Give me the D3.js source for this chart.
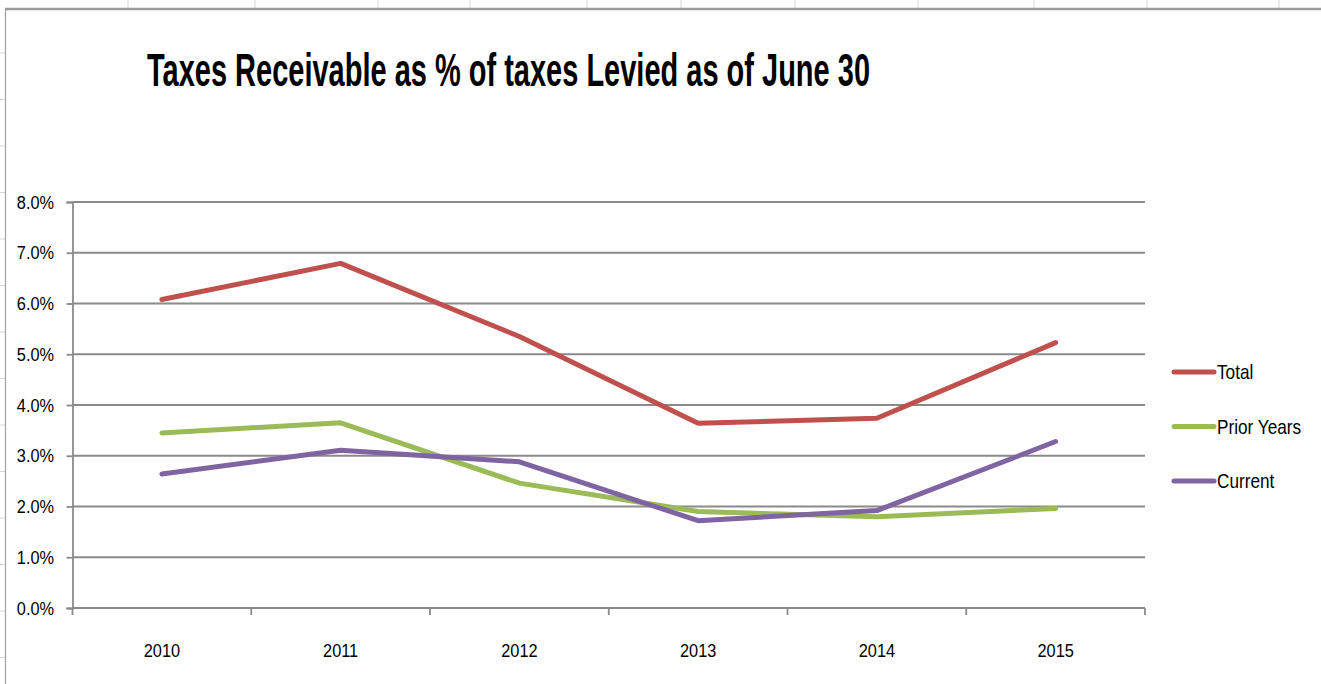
<!DOCTYPE html>
<html>
<head>
<meta charset="utf-8">
<script src="https://cdn.jsdelivr.net/npm/d3@7"></script>
<style>
  html, body { margin: 0; padding: 0; background: #ffffff; }
  svg { display: block; }
  text { font-family: "Liberation Sans", Arial, sans-serif; fill: #000; }
</style>
</head>
<body>
<svg id="chart" width="1321" height="684"></svg>
<script>
// Years on the category axis
const years = ["2010", "2011", "2012", "2013", "2014", "2015"];

// Taxes receivable as a percent of taxes levied (June 30)
const totalPct   = [6.08, 6.79, 5.35, 3.64, 3.74, 5.23];
const priorPct   = [3.45, 3.65, 2.46, 1.90, 1.80, 1.96];
const currentPct = [2.64, 3.11, 2.88, 1.72, 1.92, 3.28];

const seriesNames  = ["Total", "Prior Years", "Current"];
const seriesColors = ["#C0504D", "#9BBB59", "#8064A2"];

const yTicks = [0, 1, 2, 3, 4, 5, 6, 7, 8];

// Worksheet cell sizes behind the chart object
const colEdges = [128, 255, 378, 470, 587, 681, 795, 918, 1034, 1147, 1279];
const rowHeight = 46.5, firstRow = 53;

// narrow text look
const squeeze = 0.86;

const W = 1321, H = 684;
const svg = d3.select("#chart");

// ---- worksheet grid peeking around the chart ----
const sheet = svg.append("g");
sheet.selectAll("line.col").data(colEdges).join("line")
  .attr("x1", d => d).attr("x2", d => d).attr("y1", 0).attr("y2", 8)
  .attr("stroke", "#d6d6d6").attr("stroke-width", 1);
sheet.selectAll("line.row").data(d3.range(firstRow, H, rowHeight)).join("line")
  .attr("x1", 0).attr("x2", 5).attr("y1", d => d).attr("y2", d => d)
  .attr("stroke", "#d6d6d6").attr("stroke-width", 1);

// chart object border
svg.append("line").attr("x1", 5).attr("x2", W).attr("y1", 9).attr("y2", 9)
  .attr("stroke", "#9a9a9a").attr("stroke-width", 2.5);
svg.append("line").attr("x1", 5.5).attr("x2", 5.5).attr("y1", 9).attr("y2", H)
  .attr("stroke", "#a0a0a0").attr("stroke-width", 1.2);

// ---- title ----
svg.append("text")
  .attr("x", 147).attr("y", 86)
  .attr("font-size", 46).attr("font-weight", "bold")
  .attr("textLength", 723).attr("lengthAdjust", "spacingAndGlyphs")
  .text("Taxes Receivable as % of taxes Levied as of June 30");

// ---- scales ----
const plot = { left: 72.5, right: 1145, top: 202, bottom: 608 };
const x = d3.scaleBand().domain(years).range([plot.left, plot.right]).padding(0);
const y = d3.scaleLinear().domain([0, 8]).range([plot.bottom, plot.top]);

// horizontal gridlines
svg.append("g").selectAll("line").data(yTicks.filter(t => t > 0)).join("line")
  .attr("x1", plot.left).attr("x2", plot.right)
  .attr("y1", d => y(d)).attr("y2", d => y(d))
  .attr("stroke", "#8a8a8a").attr("stroke-width", 1.8);

// y axis
const yAxis = svg.append("g")
  .attr("transform", `translate(${plot.left},0)`)
  .call(d3.axisLeft(y).tickValues(yTicks).tickSize(6).tickPadding(0)
    .tickFormat(d => d3.format(".1f")(d) + "%"));
yAxis.select(".domain").attr("stroke", "#8a8a8a").attr("stroke-width", 1.8);
yAxis.selectAll(".tick line").attr("stroke", "#8a8a8a").attr("stroke-width", 1.8);
yAxis.selectAll(".tick text")
  .attr("x", -18.5 / squeeze)
  .attr("transform", `scale(${squeeze},1)`)
  .attr("font-size", 19).attr("fill", "#111")
  .attr("font-family", "Liberation Sans, Arial, sans-serif");

// x axis with tick marks on the category boundaries
const xAxis = svg.append("g").attr("transform", `translate(0,${plot.bottom})`);
xAxis.append("line").attr("x1", plot.left).attr("x2", plot.right)
  .attr("stroke", "#8a8a8a").attr("stroke-width", 1.8);
const boundaries = years.map(d => x(d)).concat([x(years[years.length - 1]) + x.bandwidth()]);
xAxis.selectAll("line.tk").data(boundaries).join("line")
  .attr("class", "tk")
  .attr("x1", d => d).attr("x2", d => d).attr("y1", 0).attr("y2", 7)
  .attr("stroke", "#8a8a8a").attr("stroke-width", 1.8);
xAxis.selectAll("text").data(years).join("text")
  .attr("transform", d => `translate(${x(d) + x.bandwidth() / 2},49) scale(${squeeze},1)`)
  .attr("text-anchor", "middle")
  .attr("font-size", 19).attr("fill", "#111")
  .text(d => d);

// ---- series lines ----
const seriesData = [totalPct, priorPct, currentPct];
const line = d3.line()
  .x((d, i) => x(years[i]) + x.bandwidth() / 2)
  .y(d => y(d));

svg.append("g").selectAll("path").data(seriesData).join("path")
  .attr("d", d => line(d))
  .attr("fill", "none")
  .attr("stroke", (d, i) => seriesColors[i])
  .attr("stroke-width", 5)
  .attr("stroke-linejoin", "round")
  .attr("stroke-linecap", "round");

// ---- legend ----
const legend = svg.append("g").attr("transform", "translate(1174,372)");
const item = legend.selectAll("g").data(seriesNames).join("g")
  .attr("transform", (d, i) => `translate(0,${i * 54.5})`);
item.append("line")
  .attr("x1", 0).attr("x2", 40).attr("y1", 0).attr("y2", 0)
  .attr("stroke", (d, i) => seriesColors[i])
  .attr("stroke-width", 5).attr("stroke-linecap", "round");
item.append("text")
  .attr("transform", `translate(43,7) scale(${squeeze},1)`)
  .attr("font-size", 20).attr("fill", "#111")
  .text(d => d);
</script>
</body>
</html>
